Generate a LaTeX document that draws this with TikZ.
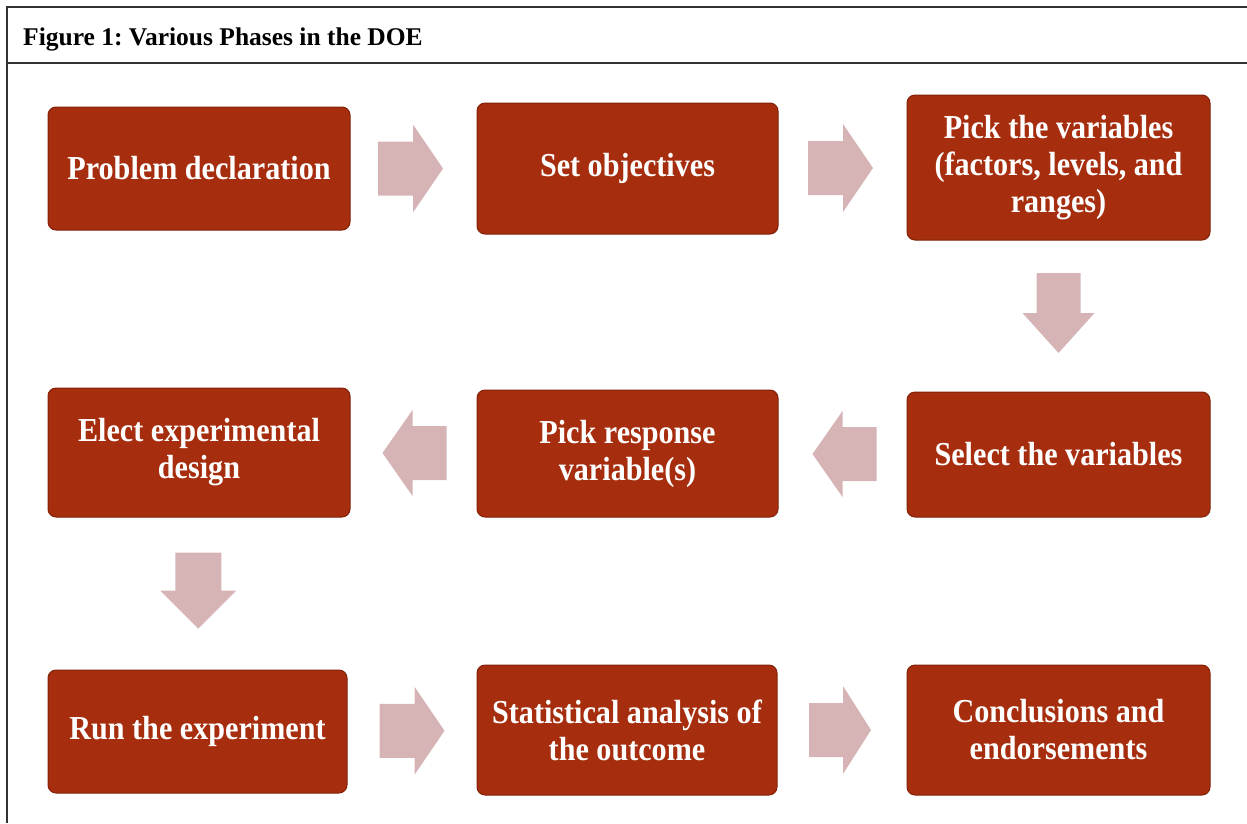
\documentclass[tikz,border=0pt]{standalone}
\usepackage{fontspec}
\setmainfont{Liberation Serif}
\newfontfamily\boxfont[FakeStretch=0.9]{Liberation Serif}
\usetikzlibrary{calc}
\definecolor{boxred}{RGB}{166,46,14}
\definecolor{boxedge}{RGB}{130,32,8}
\definecolor{arrowfill}{RGB}{214,180,182}
\definecolor{framegray}{RGB}{50,50,50}
\frenchspacing
\tikzset{
  stepbox/.style={draw=boxedge, line width=1pt, fill=boxred, rounded corners=8pt,
    text=white, align=center, inner sep=4pt,
    font=\boxfont\fontsize{33.5}{37}\selectfont\bfseries},
  frameline/.style={draw=framegray, line width=1.6pt},
  pics/barrow/.style n args={4}{code={
    \fill[arrowfill] (-#1/2,-#3) -- (#1/2-#2,-#3) -- (#1/2-#2,-#4) -- (#1/2,0)
      -- (#1/2-#2,#4) -- (#1/2-#2,#3) -- (-#1/2,#3) -- cycle;}}
}
\begin{document}
\begin{tikzpicture}[x=1pt,y=-1pt]
\useasboundingbox (0,0) rectangle (1247,823);
% frame
\coordinate (tl) at (7,7);
\coordinate (tr) at (1247,7);
\coordinate (hl) at (7,63);
\coordinate (hr) at (1247,63);
\coordinate (bl) at (7,823);
\draw[frameline] (tr) -- (tl) -- (bl);
\draw[frameline] (hl) -- (hr);
\node[anchor=base west, inner sep=0pt, font=\fontsize{25.5}{29}\selectfont\bfseries] (title) at (23,45) {Figure 1: Various Phases in the DOE};
% boxes
\node[stepbox, minimum width=302pt, minimum height=123pt] (b1) at (199,168.5) {Problem declaration};
\node[stepbox, minimum width=301pt, minimum height=131pt] (b2) at (627.5,168.5) {Set objectives};
\node[stepbox, minimum width=303pt, minimum height=145pt] (b3) at (1058.5,167.5) {Pick the variables\\(factors, levels, and\\ranges)};
\node[stepbox, minimum width=302pt, minimum height=129pt] (b4) at (199,452.5) {Elect experimental\\design};
\node[stepbox, minimum width=301pt, minimum height=127pt] (b5) at (627.5,453.5) {Pick response\\variable(s)};
\node[stepbox, minimum width=303pt, minimum height=125pt] (b6) at (1058.5,454.5) {Select the variables};
\node[stepbox, minimum width=299pt, minimum height=123pt] (b7) at (197.5,731.5) {Run the experiment};
\node[stepbox, minimum width=300pt, minimum height=130pt] (b8) at (627,730) {Statistical analysis of\\the outcome};
\node[stepbox, minimum width=303pt, minimum height=130pt] (b9) at (1058.5,730) {Conclusions and\\endorsements};
% block arrows
\pic at ($(b1.east)!0.5!(b2.west)+(-3,0)$) {barrow={65}{30}{27}{44}};
\pic at ($(b2.east)!0.5!(b3.west)+(-2,0)$) {barrow={65}{30}{27}{44}};
\pic[rotate=-90] at ($(b3.south)!0.5!(b6.north)+(0,-3)$) {barrow={80}{40}{22}{36}};
\pic[rotate=180] at ($(b6.west)!0.5!(b5.east)+(2,0)$) {barrow={64}{30}{27}{43}};
\pic[rotate=180] at ($(b5.west)!0.5!(b4.east)+(1,0)$) {barrow={64}{30}{27}{43}};
\pic[rotate=-90] at ($(b4.south)!0.5!(b7.north)+(0,-3)$) {barrow={76}{38}{23}{38}};
\pic at ($(b7.east)!0.5!(b8.west)+(0,0)$) {barrow={65}{30}{27}{44}};
\pic at ($(b8.east)!0.5!(b9.west)+(-2,0)$) {barrow={62}{28}{27}{44}};
\end{tikzpicture}
\end{document}
